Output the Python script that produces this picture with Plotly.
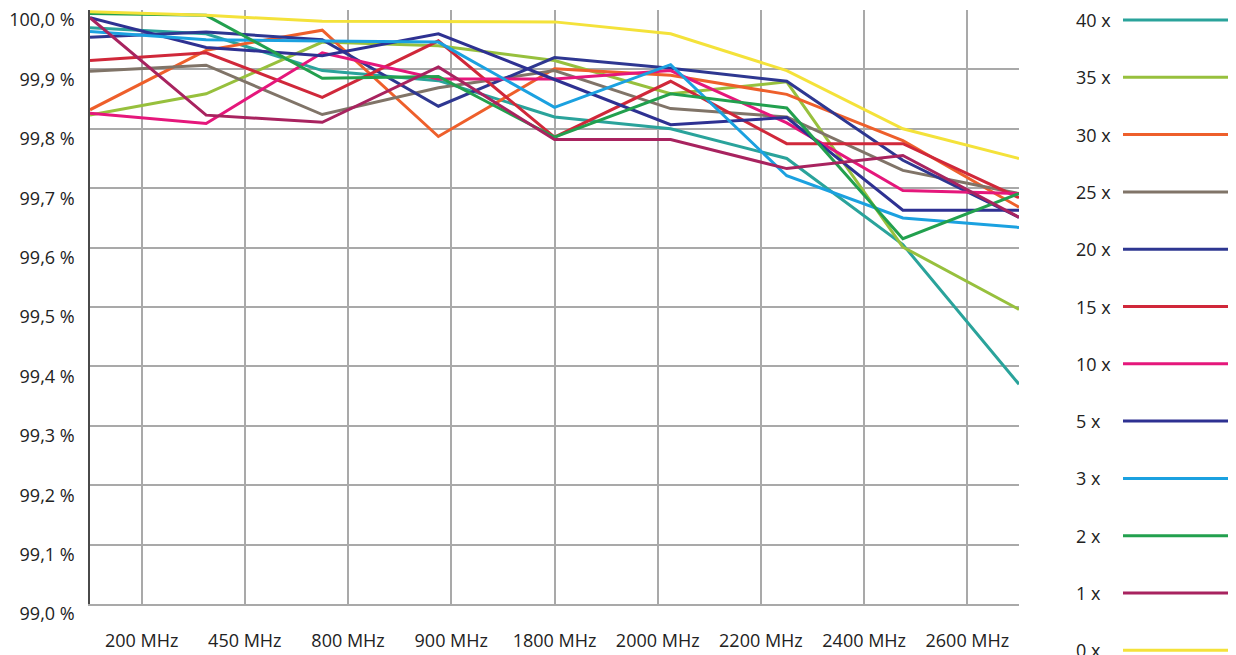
import plotly.graph_objects as go

# ---- data ----
categories = ["200 MHz", "450 MHz", "800 MHz", "900 MHz", "1800 MHz",
              "2000 MHz", "2200 MHz", "2400 MHz", "2600 MHz"]

series_names = ["40 x", "35 x", "30 x", "25 x", "20 x", "15 x",
                "10 x", "5 x", "3 x", "2 x", "1 x", "0 x"]

values_40x = [99.970, 99.960, 99.898, 99.881, 99.820, 99.800, 99.750, 99.605, 99.370]
values_35x = [99.823, 99.859, 99.946, 99.940, 99.915, 99.859, 99.879, 99.601, 99.496]
values_30x = [99.832, 99.932, 99.966, 99.787, 99.901, 99.890, 99.858, 99.780, 99.668]
values_25x = [99.897, 99.907, 99.824, 99.869, 99.898, 99.834, 99.820, 99.730, 99.691]
values_20x = [99.954, 99.963, 99.950, 99.838, 99.920, 99.902, 99.880, 99.747, 99.651]
values_15x = [99.915, 99.928, 99.853, 99.948, 99.786, 99.880, 99.775, 99.775, 99.684]
values_10x = [99.826, 99.809, 99.928, 99.884, 99.884, 99.898, 99.810, 99.696, 99.691]
values_5x  = [99.987, 99.937, 99.923, 99.960, 99.883, 99.807, 99.819, 99.663, 99.663]
values_3x  = [99.964, 99.950, 99.948, 99.946, 99.836, 99.908, 99.721, 99.650, 99.634]
values_2x  = [99.994, 99.991, 99.885, 99.888, 99.786, 99.859, 99.835, 99.615, 99.691]
values_1x  = [99.987, 99.823, 99.811, 99.904, 99.782, 99.782, 99.733, 99.755, 99.651]
values_0x  = [99.997, 99.991, 99.981, 99.980, 99.980, 99.960, 99.898, 99.800, 99.750]

series_values = [values_40x, values_35x, values_30x, values_25x, values_20x, values_15x,
                 values_10x, values_5x, values_3x, values_2x, values_1x, values_0x]

colors = ["#2aa39b", "#97c03d", "#ee5f2b", "#807468", "#2e3791", "#d0283a",
          "#e5177b", "#2e3192", "#1ba1e0", "#22a04e", "#a8235f", "#f4e23a"]

y_tick_values = [99.0, 99.1, 99.2, 99.3, 99.4, 99.5, 99.6, 99.7, 99.8, 99.9, 100.0]
y_tick_labels = ["99,0 %", "99,1 %", "99,2 %", "99,3 %", "99,4 %", "99,5 %",
                 "99,6 %", "99,7 %", "99,8 %", "99,9 %", "100,0 %"]

# ---- figure ----
fig = go.Figure()

# invisible trace to anchor the category axis (labels + vertical grid)
fig.add_trace(go.Scatter(x=categories, y=[None] * len(categories), xaxis="x",
                         mode="lines", showlegend=False, hoverinfo="skip"))

for name, vals, col in zip(series_names, series_values, colors):
    fig.add_trace(go.Scatter(x=categories, y=vals, xaxis="x2", name=name,
                             mode="lines", line=dict(color=col, width=3),
                             showlegend=False, cliponaxis=False))

TXT = "#222222"
FONT = "Open Sans"

# the page body adds an 8px margin, so the figure is offset by 8px
fig.update_layout(
    width=1228, height=647,
    margin=dict(l=82, r=217, t=2, b=51, autoexpand=False),
    plot_bgcolor="white", paper_bgcolor="white",
    font=dict(family=FONT, size=18, color=TXT),
    xaxis=dict(type="category", categoryorder="array", categoryarray=categories,
               range=[-0.5, 8.5], showgrid=True, gridcolor="#a9a9a9", gridwidth=1.5,
               showline=True, linecolor="#a9a9a9", linewidth=1.5, automargin=False,
               ticks="", ticklabelstandoff=20, zeroline=False, fixedrange=True,
               ticklabeloverflow="allow"),
    xaxis2=dict(type="category", categoryorder="array", categoryarray=categories,
                range=[0, 8], overlaying="x", visible=False, fixedrange=True),
    yaxis=dict(range=[99.0, 100.0], tickmode="array", tickvals=y_tick_values,
               ticktext=y_tick_labels, automargin=False, ticklabeloverflow="allow",
               showgrid=True, gridcolor="#a9a9a9", gridwidth=1.5,
               showline=True, linecolor="#4a4a4a", linewidth=1.5,
               ticks="", ticklabelstandoff=10, ticklabelshift=10,
               zeroline=False, fixedrange=True),
)

# ---- custom legend (label left of line), positions in page pixels ----
plot_l, plot_r, plot_t, plot_b = 90, 1019, 10, 604
def px_x(p):
    return (p - plot_l) / (plot_r - plot_l)
def px_y(p):
    return (plot_b - p) / (plot_b - plot_t)

for i, (name, col) in enumerate(zip(series_names, colors)):
    yc = 20 + 57.3 * i
    fig.add_annotation(xref="paper", yref="paper", x=px_x(1074), y=px_y(yc),
                       text=name, showarrow=False, xanchor="left", yanchor="middle",
                       font=dict(family=FONT, size=18, color=TXT))
    fig.add_shape(type="line", xref="paper", yref="paper",
                  x0=px_x(1123), x1=px_x(1234), y0=px_y(yc), y1=px_y(yc),
                  line=dict(color=col, width=3))

fig.write_html("out.html")
